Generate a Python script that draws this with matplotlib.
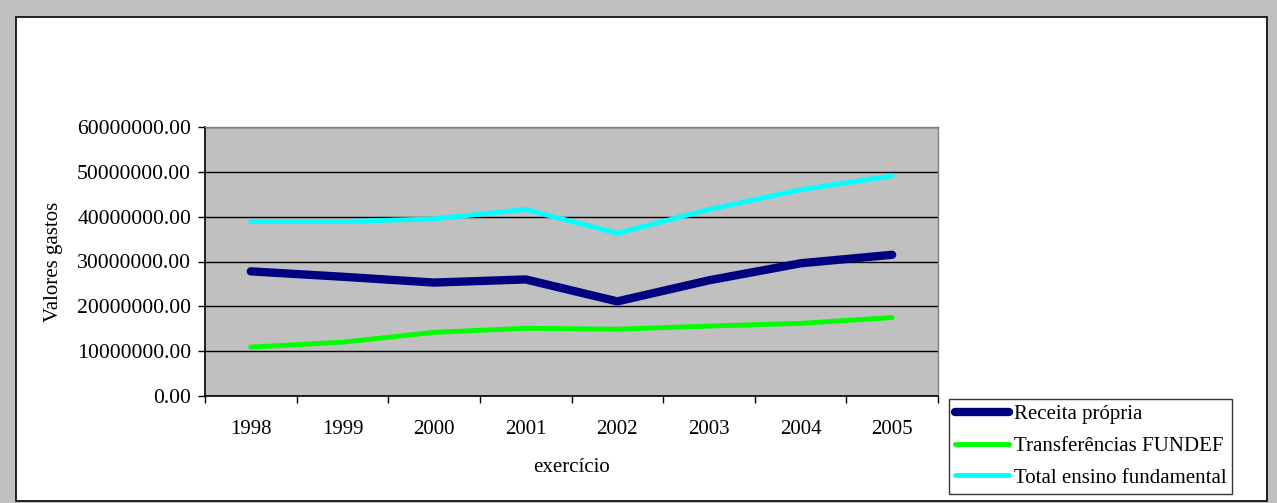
import matplotlib
matplotlib.use("Agg")
import matplotlib.pyplot as plt
from matplotlib.patches import Rectangle

years = ["1998", "1999", "2000", "2001", "2002", "2003", "2004", "2005"]
receita_propria = [27.8e6, 26.6e6, 25.3e6, 26.0e6, 21.1e6, 25.8e6, 29.6e6, 31.5e6]
transferencias_fundef = [10.9e6, 12.0e6, 14.2e6, 15.1e6, 14.9e6, 15.6e6, 16.2e6, 17.5e6]
total_ensino = [38.9e6, 38.9e6, 39.5e6, 41.6e6, 36.3e6, 41.6e6, 46.0e6, 49.1e6]
y_ticks = [0, 10e6, 20e6, 30e6, 40e6, 50e6, 60e6]

plt.rcParams['font.family'] = ['Liberation Serif', 'DejaVu Serif']
FS = 15

W, H = 1277, 503
fig = plt.figure(figsize=(W / 100, H / 100), dpi=100)
fig.patch.set_facecolor('#c0c0c0')
# white inner panel with black border
fig.patches.append(Rectangle((16 / W, 1 - 501 / H), (1267 - 16) / W, (501 - 17) / H,
                             transform=fig.transFigure, facecolor='white',
                             edgecolor='black', linewidth=1.2, zorder=-5))

left, right, top, bottom = 205, 938, 127, 396
ax = fig.add_axes([left / W, 1 - bottom / H, (right - left) / W, (bottom - top) / H])
ax.set_zorder(2)
ax.set_facecolor('#c0c0c0')

x = list(range(len(years)))
l1, = ax.plot(x, receita_propria, color='#000080', lw=6, solid_capstyle='round', label='Receita própria')
l2, = ax.plot(x, transferencias_fundef, color='#00ff00', lw=3.5, solid_capstyle='round', label='Transferências FUNDEF')
l3, = ax.plot(x, total_ensino, color='#00ffff', lw=3.5, solid_capstyle='round', label='Total ensino fundamental')

ax.set_xlim(-0.5, len(years) - 0.5)
ax.set_ylim(0, 60e6)
ax.set_yticks(y_ticks)
ax.set_yticklabels([f"{v:.2f}" for v in y_ticks], fontsize=15.6)
ax.set_xticks(x)
ax.set_xticklabels(years, fontsize=FS)
ax.tick_params(axis='x', length=0, pad=17)
ax.set_xticks([i - 0.5 for i in range(len(years) + 1)], minor=True)
ax.tick_params(axis='x', which='minor', length=5, width=1, direction='out', color='black')
ax.tick_params(axis='y', length=5, width=1, direction='out', pad=5)
ax.grid(axis='y', color='black', linewidth=1)
ax.set_axisbelow(True)
for s in ['top', 'right']:
    ax.spines[s].set_color('#808080')
    ax.spines[s].set_linewidth(1)
for s in ['left', 'bottom']:
    ax.spines[s].set_color('black')
    ax.spines[s].set_linewidth(1.2)

ax.set_ylabel('Valores gastos', fontsize=FS)
ax.yaxis.set_label_coords((63 - left) / (right - left), 0.5)
ax.set_xlabel('exercício', fontsize=FS)
ax.xaxis.set_label_coords((572 - left) / (right - left), -(458 - bottom) / (bottom - top))

leg = fig.legend(handles=[l1, l2, l3], loc='lower left',
                 bbox_to_anchor=(949 / W, 1 - 494 / H, (1231 - 949) / W, (494 - 397) / H),
                 fontsize=FS, frameon=True, fancybox=False,
                 handlelength=2.6, handletextpad=0.2, borderpad=0.3, labelspacing=0.58,
                 borderaxespad=0)
leg.get_frame().set_edgecolor('black')
leg.get_frame().set_linewidth(1)

fig.savefig('out.png', dpi=100, facecolor=fig.get_facecolor())
